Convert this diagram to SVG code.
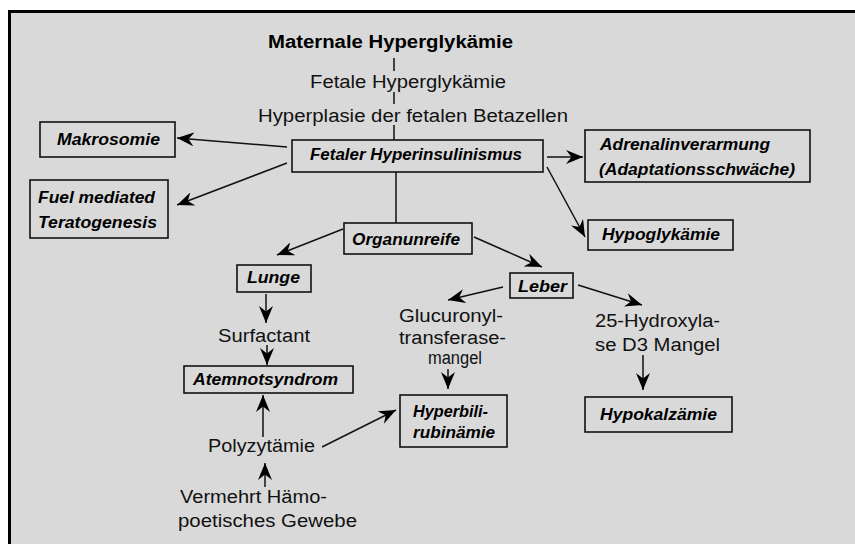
<svg xmlns="http://www.w3.org/2000/svg" width="855" height="544" viewBox="0 0 855 544">
<defs>
<marker id="ah" markerUnits="userSpaceOnUse" markerWidth="18" markerHeight="14" viewBox="0 0 18 14" refX="17" refY="7" orient="auto">
<path d="M0,0 L17,7 L0,14 L5.5,7 Z" fill="#000"/>
</marker>
<style>
.bx{fill:none;stroke:#111;stroke-width:1.6}
.ln{fill:none;stroke:#111;stroke-width:1.5}
.ar{fill:none;stroke:#111;stroke-width:1.5;marker-end:url(#ah)}
.nl{font-family:"Liberation Sans",Arial,sans-serif;font-weight:bold;font-style:italic;font-size:16px;fill:#000}
.rt{font-family:"Liberation Sans",Arial,sans-serif;font-size:18px;fill:#111}
.tt{font-family:"Liberation Sans",Arial,sans-serif;font-weight:bold;font-size:18px;fill:#000}
</style>
</defs>
<rect x="0" y="0" width="855" height="544" fill="#fff"/>
<rect x="8" y="10" width="847" height="534" fill="#d9d9d9"/>
<rect x="8" y="10" width="847" height="3" fill="#000"/>
<rect x="8" y="10" width="3" height="534" fill="#000"/>

<g id="connectors">
<path class="ln" d="M394,58 V71 M394,92 V104 M394,125 V140" stroke-width="1.1"/>
<line class="ar" x1="287" y1="147" x2="177" y2="138"/>
<line class="ar" x1="287" y1="163" x2="177" y2="205"/>
<line class="ar" x1="547" y1="157" x2="583" y2="157"/>
<line class="ar" x1="547" y1="167" x2="585" y2="237"/>
<line class="ln" x1="396" y1="172" x2="396" y2="223"/>
<line class="ar" x1="343" y1="229" x2="277" y2="255"/>
<line class="ar" x1="474" y1="237" x2="542" y2="267"/>
<line class="ar" x1="503" y1="287" x2="448" y2="300"/>
<line class="ar" x1="578" y1="285" x2="642" y2="305"/>
<line class="ar" x1="448" y1="369" x2="448" y2="389"/>
<line class="ar" x1="643" y1="355" x2="643" y2="390"/>
<line class="ar" x1="266" y1="294" x2="266" y2="323"/>
<line class="ar" x1="267" y1="345" x2="267" y2="365"/>
<line class="ar" x1="263" y1="437" x2="263" y2="395"/>
<line class="ar" x1="322" y1="447" x2="396" y2="410"/>
<line class="ar" x1="265" y1="487" x2="265" y2="463"/>
</g>

<g id="maternale"><text class="tt" x="268" y="48" textLength="245" lengthAdjust="spacingAndGlyphs">Maternale Hyperglykämie</text></g>
<g id="fetale-hyperglykaemie"><text class="rt" x="310" y="88" font-size="19" textLength="196" lengthAdjust="spacingAndGlyphs">Fetale Hyperglykämie</text></g>
<g id="hyperplasie"><text class="rt" x="258" y="122" font-size="19" textLength="310" lengthAdjust="spacingAndGlyphs">Hyperplasie der fetalen Betazellen</text></g>

<g id="hyperinsulinismus">
<rect class="bx" x="292" y="140" width="251" height="32"/>
<text class="nl" x="310" y="160" font-size="17" textLength="212" lengthAdjust="spacingAndGlyphs">Fetaler Hyperinsulinismus</text>
</g>
<g id="makrosomie">
<rect class="bx" x="40" y="122" width="135" height="35"/>
<text class="nl" x="57" y="145" textLength="103" lengthAdjust="spacingAndGlyphs">Makrosomie</text>
</g>
<g id="fuel">
<rect class="bx" x="30" y="180" width="138" height="58"/>
<text class="nl" x="38" y="203" textLength="117" lengthAdjust="spacingAndGlyphs">Fuel mediated</text>
<text class="nl" x="38" y="228" textLength="119" lengthAdjust="spacingAndGlyphs">Teratogenesis</text>
</g>
<g id="adrenalin">
<rect class="bx" x="585" y="130" width="225" height="52"/>
<text class="nl" x="600" y="150" textLength="170" lengthAdjust="spacingAndGlyphs">Adrenalinverarmung</text>
<text class="nl" x="599" y="175" textLength="196" lengthAdjust="spacingAndGlyphs">(Adaptationsschwäche)</text>
</g>
<g id="hypoglykaemie">
<rect class="bx" x="588" y="220" width="145" height="30"/>
<text class="nl" x="602" y="240" textLength="118" lengthAdjust="spacingAndGlyphs">Hypoglykämie</text>
</g>
<g id="organunreife">
<rect class="bx" x="344" y="223" width="128" height="31"/>
<text class="nl" x="352" y="245" textLength="108" lengthAdjust="spacingAndGlyphs">Organunreife</text>
</g>
<g id="lunge">
<rect class="bx" x="237" y="265" width="74" height="27"/>
<text class="nl" x="247" y="283" textLength="53" lengthAdjust="spacingAndGlyphs">Lunge</text>
</g>
<g id="leber">
<rect class="bx" x="510" y="273" width="63" height="25"/>
<text class="nl" x="518" y="292" font-size="15" textLength="49" lengthAdjust="spacingAndGlyphs">Leber</text>
</g>
<g id="glucuronyl">
<text class="rt" x="399" y="322" font-size="16" textLength="104" lengthAdjust="spacingAndGlyphs">Glucuronyl-</text>
<text class="rt" x="399" y="344" font-size="16" textLength="107" lengthAdjust="spacingAndGlyphs">transferase-</text>
<text class="rt" x="428" y="364" font-size="16" textLength="54" lengthAdjust="spacingAndGlyphs">mangel</text>
</g>
<g id="hydroxylase">
<text class="rt" x="595" y="327" font-size="17" textLength="125" lengthAdjust="spacingAndGlyphs">25-Hydroxyla-</text>
<text class="rt" x="595" y="351" font-size="17" textLength="125" lengthAdjust="spacingAndGlyphs">se D3 Mangel</text>
</g>
<g id="hyperbilirubinaemie">
<rect class="bx" x="400" y="395" width="107" height="52"/>
<text class="nl" x="413" y="417" textLength="75" lengthAdjust="spacingAndGlyphs">Hyperbili-</text>
<text class="nl" x="413" y="438" textLength="82" lengthAdjust="spacingAndGlyphs">rubinämie</text>
</g>
<g id="hypokalzaemie">
<rect class="bx" x="585" y="397" width="147" height="35"/>
<text class="nl" x="600" y="420" textLength="117" lengthAdjust="spacingAndGlyphs">Hypokalzämie</text>
</g>
<g id="surfactant"><text class="rt" x="218" y="342" font-size="17" textLength="92" lengthAdjust="spacingAndGlyphs">Surfactant</text></g>
<g id="atemnotsyndrom">
<rect class="bx" x="184" y="366" width="169" height="27"/>
<text class="nl" x="193" y="385" font-size="15" textLength="145" lengthAdjust="spacingAndGlyphs">Atemnotsyndrom</text>
</g>
<g id="polyzytaemie"><text class="rt" x="208" y="452" font-size="17" textLength="107" lengthAdjust="spacingAndGlyphs">Polyzytämie</text></g>
<g id="haemopoese">
<text class="rt" x="180" y="503" font-size="17" textLength="147" lengthAdjust="spacingAndGlyphs">Vermehrt Hämo-</text>
<text class="rt" x="178" y="527" font-size="17" textLength="179" lengthAdjust="spacingAndGlyphs">poetisches Gewebe</text>
</g>
</svg>
